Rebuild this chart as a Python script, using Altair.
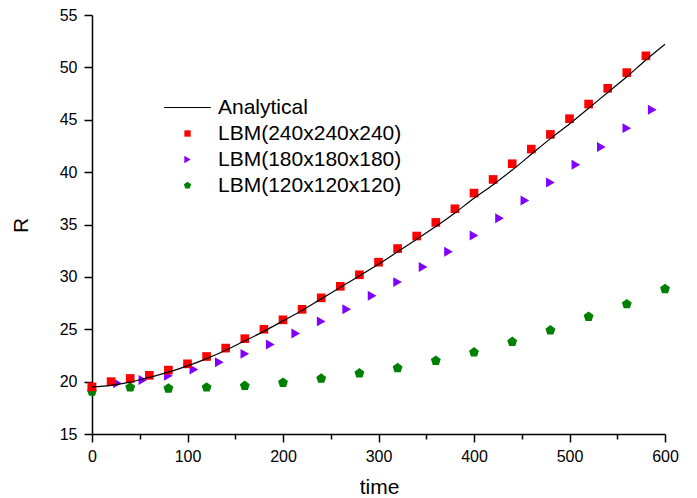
import altair as alt
import pandas as pd

FONT = "Liberation Sans"

series = ["Analytical", "LBM(240x240x240)", "LBM(180x180x180)", "LBM(120x120x120)"]
colors = ["#000000", "#ff0000", "#8000ff", "#008000"]

# Analytical curve
ana_t = [0, 20, 40, 60, 80, 100, 120, 140, 160, 180, 200, 220, 240, 260, 280, 300,
         320, 340, 360, 380, 400, 420, 440, 460, 480, 500, 520, 540, 560, 580, 600]
ana_R = [19.5, 19.65, 19.95, 20.4, 20.9, 21.5, 22.2, 23.0, 23.9, 24.8, 25.8, 26.8, 27.9,
         29.0, 30.1, 31.2, 32.4, 33.6, 34.8, 36.1, 37.5, 38.8, 40.2, 41.7, 43.2, 44.6,
         46.1, 47.6, 49.1, 50.7, 52.2]

# LBM 240
l240_t = [0, 20, 40, 60, 80, 100, 120, 140, 160, 180, 200, 220, 240, 260, 280, 300,
          320, 340, 360, 380, 400, 420, 440, 460, 480, 500, 520, 540, 560, 580]
l240_R = [19.5, 20.0, 20.3, 20.6, 21.1, 21.7, 22.4, 23.2, 24.1, 25.0, 25.9, 26.9, 28.0,
          29.1, 30.2, 31.4, 32.7, 33.9, 35.2, 36.5, 38.0, 39.3, 40.8, 42.2, 43.6, 45.1,
          46.5, 48.0, 49.5, 51.1]

# LBM 180
l180_t = [0, 26.7, 53.3, 80, 106.7, 133.3, 160, 186.7, 213.3, 240, 266.7, 293.3, 320,
          346.7, 373.3, 400, 426.7, 453.3, 480, 506.7, 533.3, 560, 586.7]
l180_R = [19.5, 19.85, 20.15, 20.55, 21.15, 21.85, 22.65, 23.55, 24.6, 25.75, 26.9, 28.2,
          29.5, 30.95, 32.4, 33.95, 35.6, 37.3, 39.0, 40.7, 42.4, 44.2, 45.95]

# LBM 120
l120_t = [0, 40, 80, 120, 160, 200, 240, 280, 320, 360, 400, 440, 480, 520, 560, 600]
l120_R = [19.05, 19.45, 19.35, 19.45, 19.6, 19.9, 20.3, 20.8, 21.3, 22.0, 22.8, 23.8,
          24.9, 26.2, 27.4, 28.85]

x_ticks = [0, 50, 100, 150, 200, 250, 300, 350, 400, 450, 500, 550, 600]
y_ticks = [15, 17.5, 20, 22.5, 25, 27.5, 30, 32.5, 35, 37.5, 40, 42.5, 45, 47.5, 50, 52.5, 55]

line_path = "M-7.4,-0.17L7.4,-0.17L7.4,0.17L-7.4,0.17Z"
tri_path = "M-1,-1.15L1,0L-1,1.15Z"
pent_path = "M0,-1.2L1.141,-0.371L0.705,0.971L-0.705,0.971L-1.141,-0.371Z"
shapes = [line_path, "square", tri_path, pent_path]

df_line = pd.DataFrame({"time": ana_t, "R": ana_R})
df_pts = pd.concat([
    pd.DataFrame({"time": l120_t, "R": l120_R, "series": series[3], "ord": 0}),
    pd.DataFrame({"time": l180_t, "R": l180_R, "series": series[2], "ord": 1}),
    pd.DataFrame({"time": l240_t, "R": l240_R, "series": series[1], "ord": 2}),
], ignore_index=True)

xs = alt.Scale(domain=[0, 600], nice=False, zero=False)
ys = alt.Scale(domain=[15, 55], nice=False, zero=False)

common_axis = dict(
    labelFont=FONT, labelFontSize=16, labelColor="black", labelFlush=False,
    labelOverlap=False, domainColor="black", domainWidth=1.5, tickColor="black",
    tickWidth=1.5, grid=False, titleFont=FONT, titleFontSize=21,
    titleFontWeight="normal", titleColor="black",
)

xaxis = alt.Axis(
    values=x_ticks,
    labelExpr="datum.value % 100 === 0 ? datum.label : ''",
    tickSize={"condition": {"test": "datum.value % 100 === 0", "value": 8}, "value": 5},
    labelPadding=6,
    title="time", titleX=287, titleY=59, titleBaseline="alphabetic", titleAlign="center",
    **common_axis,
)
yaxis = alt.Axis(
    values=y_ticks,
    labelExpr="datum.value % 5 === 0 ? datum.label : ''",
    tickSize={"condition": {"test": "datum.value % 5 === 0", "value": 8}, "value": 5},
    labelPadding=7,
    title="R", titleX=-65, titleY=210, titleAngle=270, titleBaseline="alphabetic",
    titleAlign="center",
    **common_axis,
)

legend = alt.Legend(
    title=None, orient="none", legendX=85, legendY=82, padding=0,
    labelFont=FONT, labelFontSize=21, labelColor="black", labelLimit=400,
    labelOffset=20, symbolSize=40, symbolStrokeWidth=0, rowPadding=4,
)

pts = alt.Chart(df_pts).mark_point(filled=True, opacity=1, size=75, strokeWidth=0).encode(
    x=alt.X("time:Q", scale=xs, axis=xaxis),
    y=alt.Y("R:Q", scale=ys, axis=yaxis),
    color=alt.Color("series:N", scale=alt.Scale(domain=series, range=colors), legend=legend),
    shape=alt.Shape("series:N", scale=alt.Scale(domain=series, range=shapes), legend=legend),
    order=alt.Order("ord:Q"),
)

line = alt.Chart(df_line).mark_line(color="black", strokeWidth=1.2, interpolate="monotone").encode(
    x=alt.X("time:Q", scale=xs),
    y=alt.Y("R:Q", scale=ys),
)

chart = alt.layer(pts, line).properties(
    width=573, height=419,
    autosize=alt.AutoSizeParams(type="none"),
    padding={"left": 84, "top": 7, "right": 20, "bottom": 64},
    background="white",
).configure_view(stroke=None)

chart.save("out.html", embed_options={"renderer": "svg", "actions": False})
